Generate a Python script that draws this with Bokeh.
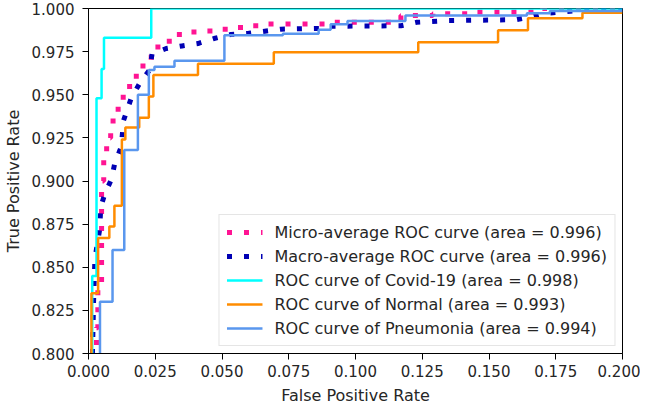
from bokeh.plotting import figure
from bokeh.models import FixedTicker, PrintfTickFormatter, Range1d, Legend, LegendItem
from bokeh.embed import file_html
from bokeh.resources import INLINE

# ---- data ----
x_ticks = [0.0, 0.025, 0.05, 0.075, 0.1, 0.125, 0.15, 0.175, 0.2]
y_ticks = [0.8, 0.825, 0.85, 0.875, 0.9, 0.925, 0.95, 0.975, 1.0]

# step curves: at fpr[i] the curve climbs to tpr[i], then runs flat to fpr[i+1]
micro_fpr = [0.0, 0.0030, 0.0035, 0.0049, 0.0057, 0.0068, 0.0083, 0.0092, 0.0111, 0.0130,
             0.0154, 0.0179, 0.0204, 0.0235, 0.0260, 0.0322, 0.0360, 0.0420, 0.0470, 0.0534,
             0.0596, 0.0640, 0.0896, 0.1170, 0.1290, 0.1420, 0.1700, 0.2]
micro_tpr = [0.78, 0.815, 0.840, 0.900, 0.916, 0.925, 0.932, 0.940, 0.947, 0.953,
             0.959, 0.965, 0.970, 0.976, 0.981, 0.985, 0.9864, 0.987, 0.988, 0.989,
             0.990, 0.991, 0.992, 0.996, 0.997, 0.998, 1.0, 1.0]

# macro average: piecewise linear
macro_fpr = [0.0012, 0.0019, 0.0024, 0.0042, 0.0046, 0.0061, 0.0086, 0.0098, 0.0123, 0.0131,
             0.0160, 0.0192, 0.0229, 0.0238, 0.0291, 0.0350, 0.0410, 0.0470, 0.0534, 0.0600,
             0.0650, 0.0720, 0.0880, 0.0900, 0.1170, 0.1230, 0.1350, 0.1600, 0.1650, 0.1700,
             0.1850, 0.2]
macro_tpr = [0.780, 0.830, 0.855, 0.872, 0.885, 0.8925, 0.901, 0.910, 0.920, 0.935,
             0.948, 0.9567, 0.9644, 0.9736, 0.9768, 0.9783, 0.9797, 0.9826, 0.9850, 0.9856,
             0.9866, 0.9880, 0.9885, 0.9897, 0.9900, 0.9920, 0.9930, 0.9935, 0.9950, 0.9970,
             0.9990, 1.0]

covid_fpr = [0.0, 0.0014, 0.0030, 0.0049, 0.0058, 0.0235, 0.2]
covid_tpr = [0.78, 0.845, 0.948, 0.965, 0.983, 1.0, 1.0]

normal_fpr = [0.0, 0.0011, 0.0036, 0.0078, 0.0097, 0.0125, 0.0138, 0.0190, 0.0226, 0.0243,
              0.0410, 0.0694, 0.1235, 0.1534, 0.1646, 0.1850, 0.2]
normal_tpr = [0.78, 0.835, 0.867, 0.8736, 0.8856, 0.924, 0.931, 0.9366, 0.949, 0.9615,
              0.968, 0.9747, 0.9805, 0.9874, 0.9943, 0.9975, 0.9975]

pneu_fpr = [0.0, 0.0043, 0.0090, 0.0134, 0.0185, 0.0226, 0.0247, 0.0322, 0.0509, 0.0728,
            0.0862, 0.0907, 0.0970, 0.1187, 0.1642, 0.1728, 0.2]
pneu_tpr = [0.78, 0.830, 0.860, 0.918, 0.950, 0.9644, 0.9663, 0.9697, 0.9845, 0.9854,
            0.9877, 0.9908, 0.9927, 0.9960, 0.9973, 0.9985, 0.9985]

labels = [
    "Micro-average ROC curve (area = 0.996)",
    "Macro-average ROC curve (area = 0.996)",
    "ROC curve of Covid-19 (area = 0.998)",
    "ROC curve of Normal (area = 0.993)",
    "ROC curve of Pneumonia (area = 0.994)",
]

FONT = "DejaVu Sans"
TXT = "#262626"

p = figure(width=640, height=407, output_backend="svg", toolbar_location=None,
           x_range=Range1d(0.0, 0.2), y_range=Range1d(0.8, 1.0),
           min_border_left=86, min_border_right=18, min_border_top=8, min_border_bottom=52)
p.grid.visible = False
p.outline_line_color = "black"
p.outline_line_width = 1
p.background_fill_color = "white"
p.border_fill_color = "white"

r_micro = p.step(micro_fpr, micro_tpr, mode="after", line_color="deeppink", line_width=5,
                 line_dash="5 12", line_cap="butt")
r_macro = p.line(macro_fpr, macro_tpr, line_color="#0000b4", line_width=5,
                 line_dash="5 12", line_cap="butt")
r_cov = p.step(covid_fpr, covid_tpr, mode="after", line_color="aqua", line_width=2.5)
r_nor = p.step(normal_fpr, normal_tpr, mode="after", line_color="darkorange", line_width=2.5)
r_pne = p.step(pneu_fpr, pneu_tpr, mode="after", line_color="#5a97ee", line_width=2.5)

for ax, ticks in ((p.xaxis, x_ticks), (p.yaxis, y_ticks)):
    ax.ticker = FixedTicker(ticks=ticks)
    ax.formatter = PrintfTickFormatter(format="%.3f")
    ax.minor_tick_line_color = None
    ax.major_tick_out = 6
    ax.major_tick_in = 0
    ax.major_tick_line_color = "black"
    ax.axis_line_color = "black"
    ax.major_label_text_font = FONT
    ax.major_label_text_font_size = "15px"
    ax.major_label_text_color = TXT
    ax.axis_label_text_font = FONT
    ax.axis_label_text_font_size = "16px"
    ax.axis_label_text_font_style = "normal"
    ax.axis_label_text_color = TXT

p.xaxis.major_label_standoff = 5
p.yaxis.major_label_standoff = 8
p.xaxis.axis_label = "False Positive Rate"
p.yaxis.axis_label = "True Positive Rate"
p.xaxis.axis_label_standoff = 6
p.yaxis.axis_label_standoff = 6

legend = Legend(items=[LegendItem(label=l, renderers=[r]) for l, r in
                       zip(labels, [r_micro, r_macro, r_cov, r_nor, r_pne])],
                location="bottom_right")
legend.margin = 7
legend.padding = 7
legend.spacing = 4
legend.glyph_width = 36
legend.glyph_height = 20
legend.label_height = 20
legend.label_standoff = 12
legend.label_text_font = FONT
legend.label_text_font_size = "16px"
legend.label_text_color = TXT
legend.border_line_color = "#cccccc"
legend.border_line_width = 1
legend.background_fill_color = "white"
legend.background_fill_alpha = 0.8
p.add_layout(legend)

open("out.html", "w").write(file_html(p, INLINE))
